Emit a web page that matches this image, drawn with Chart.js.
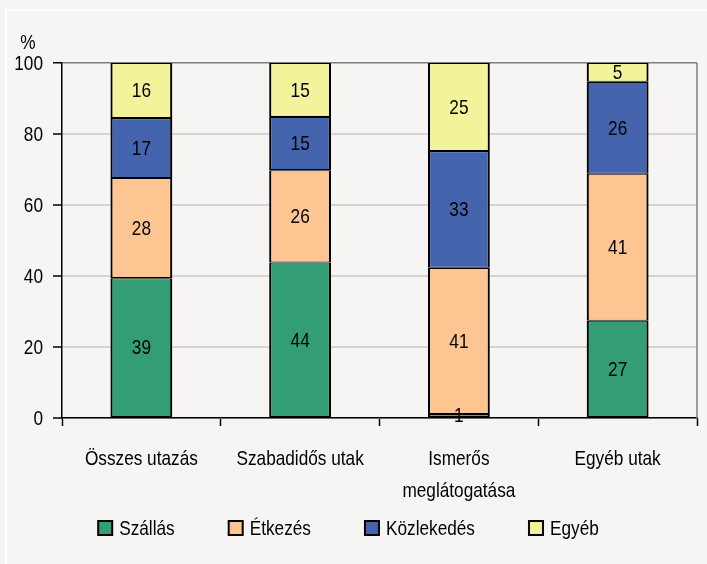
<!DOCTYPE html>
<html>
<head>
<meta charset="utf-8">
<script src="https://cdn.jsdelivr.net/npm/chart.js@4.4.1/dist/chart.umd.min.js"></script>
<style>
  html, body { margin: 0; padding: 0; background: #f6f5f3; }
  #wrap { width: 707px; height: 564px; position: relative; }
</style>
</head>
<body>
<div id="wrap"><canvas id="c" width="707" height="564"></canvas></div>
<script>
const categories = ['Összes utazás', 'Szabadidős utak', ['Ismerős', 'meglátogatása'], 'Egyéb utak'];
const seriesNames = ['Szállás', 'Étkezés', 'Közlekedés', 'Egyéb'];
const szallas    = [39.4, 43.8, 1.1, 27.4];
const etkezes    = [28.2, 26.0, 41.2, 41.4];
const kozlekedes = [16.9, 15.0, 32.9, 25.9];
const egyeb      = [15.5, 15.2, 24.8, 5.3];
const yTicks = [0, 20, 40, 60, 80, 100];
const colors = ['#339e74', '#fdc592', '#4464ad', '#f3f39b'];
const yUnit = '%';

const FONT = "'Liberation Sans', Arial, sans-serif";
const FS = 21;
const SQX = 0.82; // horizontal squeeze to mimic a narrow face

function narrowText(ctx, text, x, y, align) {
  ctx.save();
  ctx.translate(x, y);
  ctx.scale(SQX, 1);
  ctx.textAlign = align;
  ctx.textBaseline = 'middle';
  ctx.fillText(text, 0, 0);
  ctx.restore();
}
function narrowWidth(ctx, text) { return ctx.measureText(text).width * SQX; }

const bgPlugin = {
  id: 'bg',
  beforeDraw(chart) {
    const ctx = chart.ctx;
    ctx.save();
    ctx.fillStyle = '#f6f5f3';
    ctx.fillRect(0, 0, chart.width, chart.height);
    ctx.strokeStyle = '#ffffff';
    ctx.lineWidth = 2;
    ctx.beginPath();
    ctx.moveTo(6, chart.height);
    ctx.lineTo(6, 10);
    ctx.lineTo(chart.width, 10);
    ctx.stroke();
    ctx.restore();
  },
  afterDraw(chart) {
    const ctx = chart.ctx, a = chart.chartArea;
    ctx.save();
    ctx.strokeStyle = '#7f7f7f';
    ctx.lineWidth = 1.5;
    ctx.beginPath();
    ctx.moveTo(a.right, a.top);
    ctx.lineTo(a.right, a.bottom);
    ctx.stroke();

    ctx.fillStyle = '#000';
    ctx.font = FS + 'px ' + FONT;
    narrowText(ctx, yUnit, 28, 43, 'center');

    const ys = chart.scales.y;
    ys.ticks.forEach(t => {
      narrowText(ctx, String(t.value), a.left - 19, ys.getPixelForValue(t.value) + 1, 'right');
    });

    const xs = chart.scales.x;
    chart.data.labels.forEach((lab, i) => {
      const x = xs.getPixelForValue(i);
      const lines = Array.isArray(lab) ? lab : [lab];
      lines.forEach((ln, j) => narrowText(ctx, ln, x, a.bottom + 41 + j * 32, 'center'));
    });

    const box = 14, gapText = 7, gapItem = 54;
    const items = chart.data.datasets.map(ds => ({ text: ds.label, color: ds.backgroundColor }));
    const widths = items.map(it => box + gapText + narrowWidth(ctx, it.text));
    const total = widths.reduce((s, w) => s + w, 0) + gapItem * (items.length - 1);
    let x = chart.width / 2 - 5 - total / 2;
    const cy = 528;
    items.forEach((it, i) => {
      ctx.fillStyle = it.color;
      ctx.fillRect(x, cy - box / 2, box, box);
      ctx.strokeStyle = '#000';
      ctx.lineWidth = 2;
      ctx.strokeRect(x, cy - box / 2, box, box);
      ctx.fillStyle = '#000';
      narrowText(ctx, it.text, x + box + gapText, cy + 1, 'left');
      x += widths[i] + gapItem;
    });
    ctx.restore();
  }
};

const labelPlugin = {
  id: 'vlabels',
  afterDatasetsDraw(chart) {
    const ctx = chart.ctx;
    ctx.save();
    ctx.fillStyle = '#000';
    ctx.font = FS + 'px ' + FONT;
    chart.data.datasets.forEach((ds, di) => {
      const meta = chart.getDatasetMeta(di);
      meta.data.forEach((el, i) => {
        const v = ds.data[i];
        const cy = (el.y + el.base) / 2;
        narrowText(ctx, String(Math.round(v)), el.x, cy + 1, 'center');
      });
    });
    ctx.restore();
  }
};

const datasets = [szallas, etkezes, kozlekedes, egyeb].map((d, i) => ({
  label: seriesNames[i],
  data: d,
  backgroundColor: colors[i],
  borderColor: '#000',
  borderWidth: { top: 1.1, bottom: 1.1, left: 2.2, right: 2.2 },
  borderSkipped: false,
  barPercentage: 1,
  categoryPercentage: 0.39
}));

new Chart(document.getElementById('c'), {
  type: 'bar',
  data: { labels: categories, datasets },
  plugins: [bgPlugin, labelPlugin],
  options: {
    responsive: false,
    animation: false,
    devicePixelRatio: 1,
    layout: { padding: { left: 0, right: 10, top: 63, bottom: 46 } },
    plugins: {
      tooltip: { enabled: false },
      legend: { display: false }
    },
    scales: {
      x: {
        stacked: true,
        afterFit(s) { s.height = 100; },
        border: { color: '#000', width: 1.5 },
        grid: { offset: true, drawOnChartArea: false, tickLength: 8, tickColor: '#000', tickWidth: 1.5 },
        ticks: { color: 'rgba(0,0,0,0)', font: { family: FONT, size: FS }, maxRotation: 0 }
      },
      y: {
        stacked: true,
        min: 0, max: 100,
        afterFit(s) { s.width = 62; },
        afterBuildTicks(s) { s.ticks = yTicks.map(v => ({ value: v })); },
        border: { color: '#000', width: 1.5 },
        grid: {
          color: ctx => ctx.tick && ctx.tick.value === 100 ? '#7f7f7f' : '#d4d4d4',
          lineWidth: ctx => ctx.tick && ctx.tick.value === 100 ? 1.5 : 2,
          tickColor: '#000',
          tickLength: 9,
          tickWidth: 1.5
        },
        ticks: { color: 'rgba(0,0,0,0)', font: { family: FONT, size: FS }, padding: 10 }
      }
    }
  }
});
</script>
</body>
</html>
